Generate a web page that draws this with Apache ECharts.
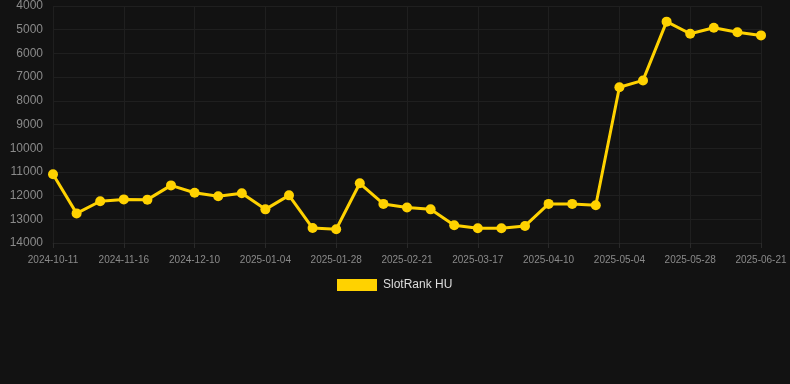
<!DOCTYPE html>
<html>
<head>
<meta charset="utf-8">
<script src="https://cdn.jsdelivr.net/npm/echarts@6/dist/echarts.min.js"></script>
<style>
html, body { margin: 0; padding: 0; background: #121212; }
#chart { width: 790px; height: 384px; }
</style>
</head>
<body>
<div id="chart"></div>
<script>
// dates (only every 3rd one is labelled on the axis)
var dates = ['2024-10-11', '2024-10-23', '2024-11-04', '2024-11-16', '2024-11-24', '2024-12-02',
	'2024-12-10', '2024-12-18', '2024-12-26', '2025-01-04', '2025-01-12', '2025-01-20',
	'2025-01-28', '2025-02-05', '2025-02-13', '2025-02-21', '2025-03-01', '2025-03-09',
	'2025-03-17', '2025-03-25', '2025-04-02', '2025-04-10', '2025-04-18', '2025-04-26',
	'2025-05-04', '2025-05-12', '2025-05-20', '2025-05-28', '2025-06-05', '2025-06-13',
	'2025-06-21'];
// rank values
var rankHU = [11100, 12750, 12240, 12160, 12170, 11570, 11880, 12030, 11900, 12580, 11990, 13370,
	13420, 11480, 12350, 12500, 12580, 13250, 13380, 13380, 13280, 12350, 12350, 12410,
	7430, 7140, 4660, 5170, 4920, 5110, 5240];
var seriesName = 'SlotRank HU';

var myChart = echarts.init(document.getElementById('chart'));
var option = {
	backgroundColor: '#121212',
	animation: false,
	grid: {
		left: 53,
		right: 29,
		top: 6,
		bottom: 141
	},
	legend: {
		data: [seriesName],
		top: 274,
		left: 332,
		itemWidth: 40,
		itemHeight: 12,
		itemGap: 10,
		icon: 'rect',
		textStyle: { color: '#dddddd', fontSize: 12, padding: [0, 0, 0, 1] }
	},
	xAxis: {
		type: 'category',
		boundaryGap: false,
		data: dates,
		axisLine: { show: true, lineStyle: { color: '#222222' } },
		axisTick: { show: true, interval: 2, length: 5, lineStyle: { color: '#2a2a2a' } },
		axisLabel: { interval: 2, color: '#8a8a8a', fontSize: 10, margin: 12 },
		splitLine: { show: true, interval: 2, lineStyle: { color: '#1f1f1f' } }
	},
	yAxis: {
		type: 'value',
		inverse: true,
		min: 4000,
		max: 14000,
		interval: 1000,
		axisLine: { show: false },
		axisTick: { show: false },
		axisLabel: {
			color: '#8a8a8a',
			fontSize: 12,
			margin: 10,
			formatter: function (v) { return String(v); }
		},
		splitLine: { lineStyle: { color: '#1f1f1f' } }
	},
	series: [{
		name: seriesName,
		type: 'line',
		data: rankHU,
		symbol: 'circle',
		symbolSize: 10,
		lineStyle: { color: '#ffd200', width: 3 },
		itemStyle: { color: '#ffd200' }
	}]
};
myChart.setOption(option);
</script>
</body>
</html>
